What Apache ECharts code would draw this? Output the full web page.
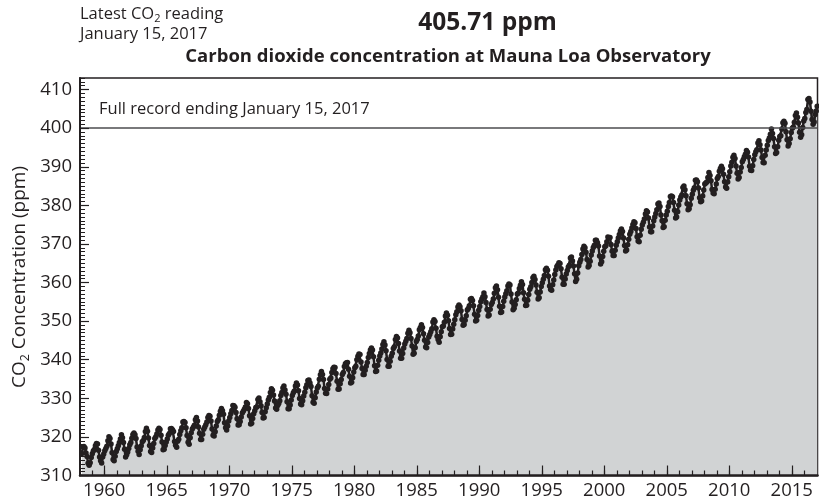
<!DOCTYPE html>
<html>
<head>
<meta charset="utf-8">
<title>Carbon dioxide concentration at Mauna Loa Observatory</title>
<script src="https://cdn.jsdelivr.net/npm/echarts@6/dist/echarts.min.js"></script>
<style>
  html, body { margin: 0; padding: 0; background: #ffffff; }
  #chart { width: 819px; height: 503px; }
</style>
</head>
<body>
<div id="chart"></div>
<script>
// Monthly mean CO2 (ppm) at Mauna Loa, one row per year, starting March 1958.
const firstYear = 1958;
const firstMonthIndex = 2; // March
const co2Monthly = [
  315.71, 317.45, 317.50, 317.10, 315.86, 314.93, 313.20, 312.66, 313.33, 314.67,
  315.62, 316.38, 316.71, 317.72, 318.29, 318.15, 316.54, 314.80, 313.84, 313.26, 314.80, 315.58,
  316.43, 316.97, 317.58, 319.02, 320.03, 319.59, 318.18, 315.91, 314.16, 313.83, 315.00, 316.19,
  316.93, 317.70, 318.54, 319.48, 320.58, 319.77, 318.57, 316.79, 314.80, 315.38, 316.10, 317.01,
  317.94, 318.56, 319.68, 320.63, 321.01, 320.55, 319.58, 317.40, 316.26, 315.42, 316.69, 317.69,
  318.74, 319.08, 319.86, 321.39, 322.25, 321.47, 319.74, 317.77, 316.21, 315.99, 317.12, 318.31,
  319.57, 320.07, 320.73, 321.77, 322.25, 321.89, 320.44, 318.70, 316.70, 316.79, 317.79, 318.71,
  319.44, 320.44, 320.89, 322.13, 322.16, 321.87, 321.39, 318.81, 317.81, 317.30, 318.87, 319.42,
  320.62, 321.59, 322.39, 323.87, 324.01, 323.75, 322.39, 320.37, 318.64, 318.10, 319.79, 321.08,
  322.07, 322.50, 323.04, 324.42, 325.00, 324.09, 322.55, 320.92, 319.31, 319.31, 320.72, 321.96,
  322.57, 323.15, 323.89, 325.02, 325.57, 325.36, 324.14, 322.03, 320.41, 320.25, 321.31, 322.84,
  324.00, 324.42, 325.64, 326.66, 327.34, 326.76, 325.88, 323.67, 322.38, 321.78, 322.85, 324.11,
  325.03, 325.99, 326.87, 328.13, 328.07, 327.66, 326.35, 324.69, 323.10, 323.16, 323.98, 325.13,
  326.17, 326.68, 327.18, 327.78, 328.92, 328.57, 327.34, 325.46, 323.36, 323.57, 324.80, 326.01,
  326.77, 327.63, 327.75, 329.72, 330.07, 329.09, 328.05, 326.32, 324.93, 325.06, 326.50, 327.55,
  328.54, 329.56, 330.30, 331.50, 332.48, 332.07, 330.87, 329.31, 327.51, 327.18, 328.16, 328.64,
  329.35, 330.71, 331.48, 332.65, 333.20, 332.16, 331.07, 329.12, 327.32, 327.28, 328.30, 329.58,
  330.73, 331.46, 331.90, 333.17, 333.94, 333.45, 331.97, 329.95, 328.50, 328.34, 329.37, 330.58,
  331.59, 332.75, 333.52, 334.64, 334.77, 334.00, 333.06, 330.68, 328.95, 328.75, 330.15, 331.62,
  332.66, 333.13, 334.95, 336.13, 336.93, 336.17, 334.88, 332.56, 331.29, 331.27, 332.41, 333.60,
  334.95, 335.25, 336.66, 337.69, 338.03, 338.01, 336.41, 334.41, 332.37, 332.41, 333.75, 334.90,
  336.14, 336.69, 338.27, 338.96, 339.21, 339.26, 337.54, 335.75, 333.98, 334.19, 335.31, 336.81,
  337.90, 338.34, 340.01, 340.93, 341.48, 341.33, 339.40, 337.70, 336.19, 336.15, 337.27, 338.32,
  339.29, 340.55, 341.61, 342.53, 343.03, 342.54, 340.78, 338.44, 336.95, 337.08, 338.58, 339.88,
  340.96, 341.73, 342.81, 343.97, 344.63, 343.79, 342.32, 340.09, 338.28, 338.29, 339.60, 340.90,
  341.68, 342.90, 343.33, 345.25, 346.03, 345.63, 344.19, 342.27, 340.35, 340.38, 341.59, 343.05,
  344.10, 344.79, 345.52, 346.84, 347.63, 346.97, 345.53, 343.55, 341.40, 341.67, 343.10, 344.70,
  345.21, 346.16, 347.74, 348.33, 349.06, 348.38, 346.72, 345.02, 343.27, 343.13, 344.49, 345.88,
  346.56, 347.28, 348.01, 349.77, 350.38, 349.93, 348.16, 346.08, 345.22, 344.51, 345.93, 347.22,
  348.52, 348.73, 349.73, 351.31, 352.09, 351.53, 350.11, 348.08, 346.52, 346.59, 347.96, 349.16,
  350.39, 351.64, 352.41, 353.69, 354.21, 353.72, 352.69, 350.40, 348.92, 349.13, 350.20, 351.41,
  352.91, 353.27, 353.96, 355.64, 355.86, 355.37, 353.99, 351.81, 350.05, 350.25, 351.49, 352.85,
  353.80, 355.04, 355.73, 356.32, 357.32, 356.34, 354.84, 353.01, 351.31, 351.62, 353.07, 354.33,
  354.84, 355.73, 357.23, 358.66, 359.13, 358.13, 356.19, 353.85, 352.25, 352.35, 353.81, 355.12,
  356.25, 357.11, 357.86, 359.09, 359.59, 359.33, 357.01, 354.94, 352.96, 353.32, 354.32, 355.57,
  357.00, 357.31, 358.47, 359.27, 360.19, 359.52, 357.33, 355.64, 354.03, 354.12, 355.41, 356.91,
  358.24, 358.92, 359.99, 361.23, 361.65, 360.81, 359.38, 357.46, 355.73, 356.08, 357.53, 358.98,
  359.92, 360.86, 361.83, 363.30, 363.69, 363.19, 361.64, 359.12, 358.17, 357.99, 359.45, 360.68,
  362.07, 363.24, 364.17, 364.57, 365.13, 364.92, 363.55, 361.38, 359.54, 359.58, 360.89, 362.24,
  363.09, 364.03, 364.51, 366.35, 366.64, 365.59, 364.31, 362.25, 360.29, 360.82, 362.49, 364.38,
  365.26, 365.98, 367.24, 368.66, 369.42, 368.99, 367.82, 365.95, 364.02, 364.40, 365.52, 367.13,
  368.18, 369.07, 369.68, 370.99, 370.96, 370.30, 369.45, 366.90, 364.81, 365.37, 366.72, 368.10,
  369.29, 369.54, 370.60, 371.82, 371.58, 371.70, 369.86, 368.13, 367.00, 367.03, 368.37, 369.67,
  370.59, 371.51, 372.43, 373.37, 373.85, 373.21, 371.51, 369.61, 368.18, 368.45, 369.76, 371.24,
  372.53, 373.20, 374.12, 375.02, 375.76, 375.52, 374.01, 371.85, 370.75, 370.55, 372.25, 373.79,
  374.88, 375.64, 376.45, 377.73, 378.60, 378.28, 376.70, 374.38, 373.17, 373.14, 374.66, 375.99,
  377.00, 377.87, 378.88, 380.35, 380.62, 379.69, 377.47, 376.01, 374.25, 374.46, 376.16, 377.51,
  378.46, 379.73, 380.77, 382.29, 382.45, 382.21, 380.74, 378.74, 376.70, 377.00, 378.35, 380.11,
  381.38, 382.19, 382.67, 384.61, 385.03, 384.05, 382.46, 380.41, 378.85, 379.13, 380.15, 381.82,
  382.89, 383.90, 384.58, 386.50, 386.56, 386.10, 384.50, 381.99, 380.96, 381.12, 382.45, 383.95,
  385.52, 385.82, 386.03, 387.21, 388.54, 387.76, 386.36, 384.09, 383.18, 382.99, 384.19, 385.56,
  386.94, 387.48, 388.82, 389.55, 390.14, 389.48, 388.03, 386.11, 384.74, 384.43, 386.02, 387.42,
  388.71, 390.20, 391.17, 392.46, 393.00, 392.15, 390.20, 388.35, 386.85, 387.24, 388.67, 389.79,
  391.33, 391.86, 392.60, 393.25, 394.19, 393.74, 392.51, 390.13, 389.08, 389.00, 390.28, 391.86,
  393.12, 393.86, 394.40, 396.18, 396.74, 395.71, 394.36, 392.39, 391.11, 391.05, 392.98, 394.34,
  395.55, 396.80, 397.43, 398.41, 399.78, 398.60, 397.32, 395.20, 393.45, 393.70, 395.16, 396.84,
  397.85, 398.01, 399.77, 401.38, 401.78, 401.25, 399.10, 397.03, 395.38, 396.03, 397.28, 398.91,
  399.98, 400.28, 401.54, 403.28, 403.96, 402.80, 401.31, 398.93, 397.63, 398.29, 400.16, 401.85,
  402.52, 404.04, 404.83, 407.42, 407.70, 406.81, 404.39, 402.25, 401.03, 401.57, 403.53, 404.42
];

// Most recent daily reading, which closes the record.
const latestReading = 405.71;
const latestDate = 'January 15, 2017';
const latestDecimalYear = 2017 + 14 / 365;

// Axis marks
const yearLabels = [1960, 1965, 1970, 1975, 1980, 1985, 1990, 1995, 2000, 2005, 2010, 2015];
const yearTicks = [1959, 1960, 1961, 1962, 1963, 1964, 1965, 1966, 1967, 1968, 1969, 1970,
  1971, 1972, 1973, 1974, 1975, 1976, 1977, 1978, 1979, 1980, 1981, 1982, 1983, 1984, 1985,
  1986, 1987, 1988, 1989, 1990, 1991, 1992, 1993, 1994, 1995, 1996, 1997, 1998, 1999, 2000,
  2001, 2002, 2003, 2004, 2005, 2006, 2007, 2008, 2009, 2010, 2011, 2012, 2013, 2014, 2015, 2016];
const ppmLabels = [310, 320, 330, 340, 350, 360, 370, 380, 390, 400, 410];
const ppmTicks = [];
for (let v = 310; v <= 413; v++) ppmTicks.push(v);
const referenceLevel = 400;

// [decimal year, ppm] pairs placed at mid-month
const points = co2Monthly.map((v, i) => {
  const m = firstMonthIndex + i;
  return [firstYear + (m + 0.5) / 12, v];
});
points.push([latestDecimalYear, latestReading]);

const ink = '#231f20';
const font = '"Open Sans", "Noto Sans", sans-serif';
const xRange = { min: 1958.06, max: 2017.06 };
const yRange = { min: 310, max: 413 };
const toText = v => String(v);

const chart = echarts.init(document.getElementById('chart'), null, { renderer: 'canvas' });

chart.setOption({
  animation: false,
  backgroundColor: '#ffffff',
  grid: {
    left: 80, right: 1.5, top: 78, bottom: 27.5,
    show: true, borderColor: ink, borderWidth: 1.5, backgroundColor: 'transparent'
  },
  xAxis: [
    {
      type: 'value', ...xRange, position: 'bottom', z: 10,
      axisLine: { show: true, onZero: false, lineStyle: { color: ink, width: 2.5 } },
      axisTick: { show: true, inside: true, length: 10, customValues: yearLabels, lineStyle: { color: ink, width: 1.2 } },
      axisLabel: { show: true, customValues: yearLabels, formatter: toText, color: ink, fontSize: 18.5, fontFamily: font, margin: 6 },
      splitLine: { show: false }
    },
    {
      type: 'value', ...xRange, position: 'bottom', z: 10,
      axisLine: { show: false },
      axisTick: { show: true, inside: true, length: 5, customValues: yearTicks, lineStyle: { color: ink, width: 1.2 } },
      axisLabel: { show: false },
      splitLine: { show: false }
    }
  ],
  yAxis: [
    {
      type: 'value', ...yRange, position: 'left', z: 10,
      axisLine: { show: true, onZero: false, lineStyle: { color: ink, width: 2 } },
      axisTick: { show: true, inside: true, length: 9, customValues: ppmLabels, lineStyle: { color: ink, width: 1.2 } },
      axisLabel: { show: true, customValues: ppmLabels, formatter: toText, color: ink, fontSize: 18.5, fontFamily: font, margin: 8 },
      splitLine: { show: false }
    },
    {
      type: 'value', ...yRange, position: 'left', z: 10,
      axisLine: { show: false },
      axisTick: { show: true, inside: true, length: 5, customValues: ppmTicks, lineStyle: { color: ink, width: 1 } },
      axisLabel: { show: false },
      splitLine: { show: false }
    }
  ],
  series: [
    {
      type: 'line',
      xAxisIndex: 0,
      yAxisIndex: 0,
      data: points,
      symbol: 'circle',
      symbolSize: 5.5,
      showSymbol: true,
      lineStyle: { color: ink, width: 2.5 },
      itemStyle: { color: ink },
      areaStyle: { color: '#d1d3d4', opacity: 1, origin: 'start' },
      markLine: {
        silent: true,
        symbol: 'none',
        label: { show: false },
        lineStyle: { color: '#4d4d4f', width: 1.5, type: 'solid' },
        data: [{ yAxis: referenceLevel }]
      },
      z: 3
    }
  ],
  graphic: [
    {
      type: 'text', left: 80, top: 4,
      style: {
        text: '{a|Latest CO}{s|2}{a| reading}',
        rich: {
          a: { fontSize: 16.5, fontFamily: font, fill: ink, lineHeight: 20 },
          s: { fontSize: 11, fontFamily: font, fill: ink, lineHeight: 20, padding: [9, 0, 0, 0] }
        }
      }
    },
    {
      type: 'text', left: 80, top: 26,
      style: { text: latestDate, fontSize: 16.5, fontFamily: font, fill: ink }
    },
    {
      type: 'text', x: 487.5, y: 23,
      style: {
        text: latestReading.toFixed(2) + ' ppm', fontSize: 24.5, fontWeight: 'bold',
        fontFamily: font, fill: ink, align: 'center', verticalAlign: 'middle'
      }
    },
    {
      type: 'text', x: 448, y: 57,
      style: {
        text: 'Carbon dioxide concentration at Mauna Loa Observatory', fontSize: 18.5, fontWeight: 'bold',
        fontFamily: font, fill: ink, align: 'center', verticalAlign: 'middle'
      }
    },
    {
      type: 'text', x: 99, y: 109,
      style: {
        text: 'Full record ending ' + latestDate, fontSize: 16.5,
        fontFamily: font, fill: ink, align: 'left', verticalAlign: 'middle'
      }
    },
    {
      type: 'text', x: 20, y: 277, rotation: Math.PI / 2,
      style: {
        text: '{a|CO}{s|2}{a| Concentration (ppm)}',
        align: 'center', verticalAlign: 'middle',
        rich: {
          a: { fontSize: 19, fontFamily: font, fill: ink, lineHeight: 22 },
          s: { fontSize: 12.5, fontFamily: font, fill: ink, lineHeight: 22, padding: [10, 0, 0, 0] }
        }
      }
    }
  ]
});
</script>
</body>
</html>
